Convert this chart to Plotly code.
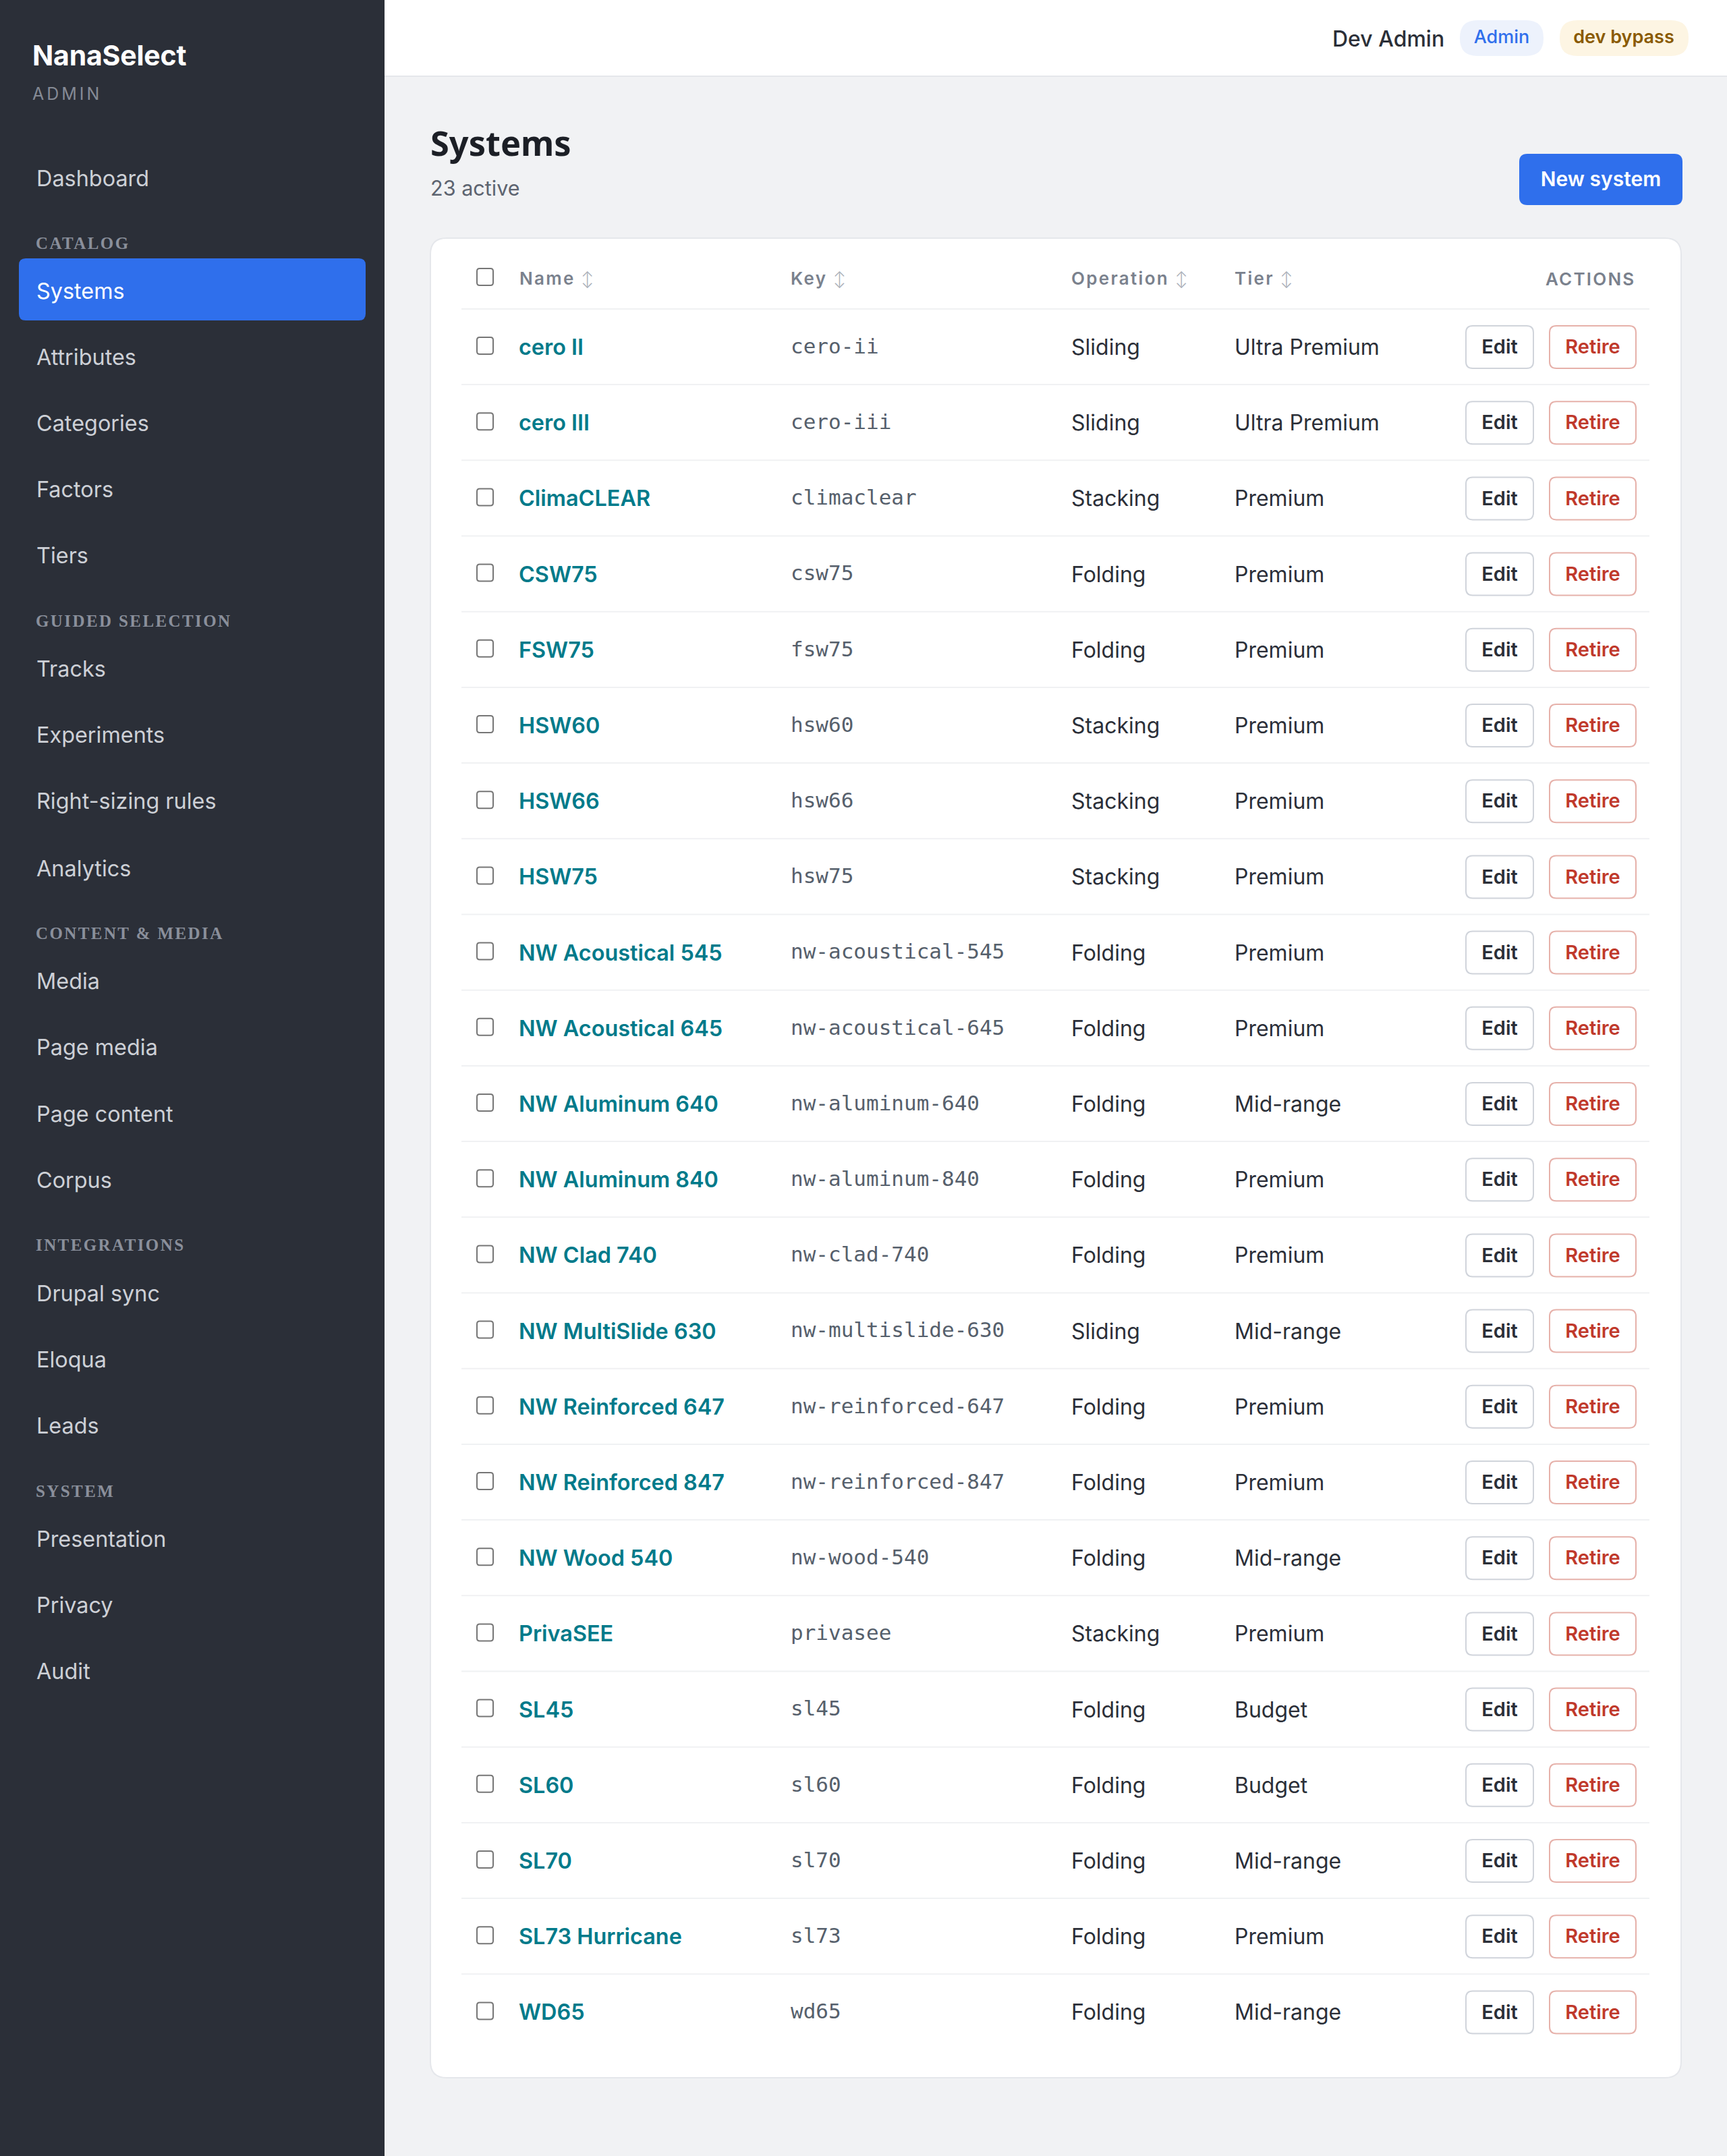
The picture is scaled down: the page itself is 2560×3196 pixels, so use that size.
import plotly.graph_objects as go

# Sidebar
nav_labels = ["Dashboard", "Systems", "Attributes", "Categories", "Factors", "Tiers", "Tracks", "Experiments",
              "Right-sizing rules", "Analytics", "Media", "Page media", "Page content", "Corpus", "Drupal sync",
              "Eloqua", "Leads", "Presentation", "Privacy", "Audit"]
nav_y = [265, 432, 530, 628, 726, 824, 992, 1090, 1188, 1288, 1455, 1553, 1652, 1750, 1918, 2016, 2114, 2282, 2380, 2478]
section_labels = ["CATALOG", "GUIDED SELECTION", "CONTENT &amp; MEDIA", "INTEGRATIONS", "SYSTEM"]
section_y = [361, 921, 1384, 1846, 2211]

# Table
names = ["cero II", "cero III", "ClimaCLEAR", "CSW75", "FSW75", "HSW60", "HSW66", "HSW75", "NW Acoustical 545",
         "NW Acoustical 645", "NW Aluminum 640", "NW Aluminum 840", "NW Clad 740", "NW MultiSlide 630",
         "NW Reinforced 647", "NW Reinforced 847", "NW Wood 540", "PrivaSEE", "SL45", "SL60", "SL70",
         "SL73 Hurricane", "WD65"]
keys = ["cero-ii", "cero-iii", "climaclear", "csw75", "fsw75", "hsw60", "hsw66", "hsw75", "nw-acoustical-545",
        "nw-acoustical-645", "nw-aluminum-640", "nw-aluminum-840", "nw-clad-740", "nw-multislide-630",
        "nw-reinforced-647", "nw-reinforced-847", "nw-wood-540", "privasee", "sl45", "sl60", "sl70", "sl73", "wd65"]
operations = ["Sliding", "Sliding", "Stacking", "Folding", "Folding", "Stacking", "Stacking", "Stacking", "Folding",
              "Folding", "Folding", "Folding", "Folding", "Sliding", "Folding", "Folding", "Folding", "Stacking",
              "Folding", "Folding", "Folding", "Folding", "Folding"]
tiers = ["Ultra Premium", "Ultra Premium", "Premium", "Premium", "Premium", "Premium", "Premium", "Premium", "Premium",
         "Premium", "Mid-range", "Premium", "Premium", "Mid-range", "Premium", "Premium", "Mid-range", "Premium",
         "Budget", "Budget", "Mid-range", "Premium", "Mid-range"]
headers = ["Name", "Key", "Operation", "Tier"]
header_x = [770, 1172, 1588, 1830]

W, H = 2560, 3196
ROW0, PITCH = 514, 112.2
row_y = [ROW0 + i * PITCH for i in range(len(names))]
SORT = ' <span style="color:#a9aeb7;font-size:22px;font-weight:300">↕</span>'

DARK = "#2b2f38"
BLUE = "#2f6fec"
GREY = "#5d6470"


# rounded rectangle as svg path
def rrect(x0, y0, x1, y1, r, fill, line=None, lw=0):
    path = (f"M{x0+r},{y0} L{x1-r},{y0} Q{x1},{y0} {x1},{y0+r} L{x1},{y1-r} Q{x1},{y1} {x1-r},{y1} "
            f"L{x0+r},{y1} Q{x0},{y1} {x0},{y1-r} L{x0},{y0+r} Q{x0},{y0} {x0+r},{y0} Z")
    return dict(type="path", path=path, xref="x", yref="y", fillcolor=fill, layer="below",
                line=dict(color=line or fill, width=lw))


def box(x0, y0, x1, y1, fill):
    return dict(type="rect", x0=x0, y0=y0, x1=x1, y1=y1, xref="x", yref="y", fillcolor=fill, layer="below",
                line=dict(width=0))


def hline(y, x0=684, x1=2445, color="#f0f1f3"):
    return dict(type="line", x0=x0, x1=x1, y0=y, y1=y, xref="x", yref="y", layer="below",
                line=dict(color=color, width=2))


fig = go.Figure()


def add_text(x, y, text, size, color, family="Inter", weight=400, pos="middle right", dy=0):
    fig.add_trace(go.Scatter(x=x, y=[v + dy for v in y], text=text, mode="text", textposition=pos, hoverinfo="skip",
                             cliponaxis=False, showlegend=False,
                             textfont=dict(family=family, size=size, color=color, weight=weight)))


shapes = [box(0, 0, 570, H, DARK), box(570, 0, W, 112, "#ffffff"), hline(113, 570, W, "#e5e7eb"),
          rrect(28, 383, 542, 475, 10, BLUE),
          rrect(2164, 30, 2288, 83, 26, "#edf2fc"), rrect(2312, 30, 2503, 83, 26, "#fdf5e3"),
          rrect(2252, 228, 2494, 304, 12, BLUE),
          rrect(638, 353, 2492, 3080, 24, "#ffffff", "#e5e7eb", 2),
          hline(ROW0 - 56)]
shapes.append(rrect(707, 398, 731, 423, 4, "#ffffff", "#767676", 2))
for i, y in enumerate(row_y):
    if i < len(row_y) - 1:
        shapes.append(hline(y + PITCH / 2))
    shapes.append(rrect(707, y - 14, 731, y + 11, 4, "#ffffff", "#767676", 2))
    shapes.append(rrect(2173, y - 31, 2273, y + 32, 10, "#ffffff", "#d0d4db", 2))
    shapes.append(rrect(2297, y - 31, 2425, y + 32, 10, "#ffffff", "#e6b1aa", 2))

# sidebar text
add_text([48], [87], ["NanaSelect"], 41, "#ffffff", weight=700)
add_text([48], [142], ["ADMIN"], 25, "#858a95")
add_text([54] * len(nav_labels), nav_y, nav_labels, 32.4, ["#ffffff" if n == "Systems" else "#cdd0d6" for n in nav_labels], dy=3)
add_text([53] * len(section_labels), section_y, section_labels, 25, "#8a8f9b", family="Liberation Serif", weight=700, dy=2)

# top bar
add_text([1975], [61], ["Dev Admin"], 32, DARK, weight=500)
add_text([2226], [57], ["Admin"], 27, BLUE, weight=500, pos="middle center")
add_text([2407], [57], ["dev bypass"], 27, "#8a5a00", weight=600, pos="middle center")

# heading
add_text([638], [218], ["Systems"], 50.5, "#1c1f26", family="Noto Sans", weight=700)
add_text([638], [282], ["23 active"], 30.6, GREY)
add_text([2373], [268], ["New system"], 30, "#ffffff", weight=600, pos="middle center")

# table
add_text(header_x, [415] * 4, [h + SORT for h in headers], 26, "#7a818d", weight=600)
add_text([2291], [416], ["ACTIONS"], 26, "#7a818d", weight=600)
add_text([769] * len(names), row_y, names, 32.4, "#007a8a", weight=600, dy=4)
add_text([1172] * len(keys), row_y, keys, 31, "#56606c", family="DejaVu Sans Mono", dy=2)
add_text([1588] * len(operations), row_y, operations, 32, DARK, dy=4)
add_text([1830] * len(tiers), row_y, tiers, 32, DARK, dy=4)
add_text([2223] * len(names), row_y, ["Edit"] * len(names), 29, DARK, weight=600, pos="middle center", dy=3)
add_text([2361] * len(names), row_y, ["Retire"] * len(names), 29, "#c0392b", weight=600, pos="middle center", dy=3)

fig.update_layout(width=W, height=H, margin=dict(l=0, r=0, t=0, b=0), plot_bgcolor="#f1f2f4", paper_bgcolor="#f1f2f4",
                  xaxis=dict(range=[0, W], visible=False, fixedrange=True),
                  yaxis=dict(range=[H, 0], visible=False, fixedrange=True),
                  showlegend=False, shapes=shapes)

# page margin and the letter spacing plotly has no attribute for
post = """
document.body.style.margin = '0';
document.body.style.overflow = 'hidden';
var spacing = {'ADMIN': '4px', 'ACTIONS': '2.2px', 'Name': '2.3px', 'Key': '2.3px', 'Operation': '2.3px', 'Tier': '2.3px',
  'CATALOG': '2.4px', 'GUIDED SELECTION': '2.4px', 'CONTENT & MEDIA': '2.4px', 'INTEGRATIONS': '2.4px', 'SYSTEM': '2.4px',
  'NanaSelect': '-0.2px'};
document.querySelectorAll('text').forEach(function (t) {
  var s = t.textContent.replace(' ↕', '');
  if (spacing[s]) { t.style.letterSpacing = spacing[s]; }
});
"""
fig.write_html("out.html", config=dict(displayModeBar=False), post_script=post)
